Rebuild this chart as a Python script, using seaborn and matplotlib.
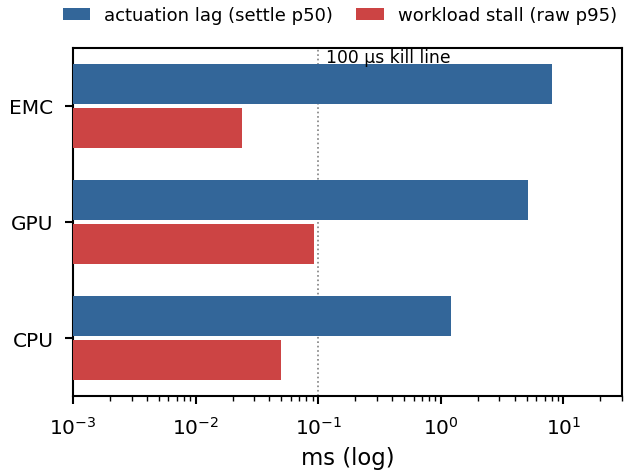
import matplotlib
matplotlib.use("Agg")
import matplotlib.pyplot as plt
import seaborn as sns
import pandas as pd

categories = ["EMC", "GPU", "CPU"]
series = ["actuation lag (settle p50)", "workload stall (raw p95)"]
actuation_lag = [8.1, 5.1, 1.21]
workload_stall = [0.024, 0.093, 0.050]
kill_line = 0.1
colors = ["#336699", "#cc4444"]

rows = []
for c, a, w in zip(categories, actuation_lag, workload_stall):
    rows.append({"component": c, "series": series[0], "ms": a})
    rows.append({"component": c, "series": series[1], "ms": w})
df = pd.DataFrame(rows)

sns.set_theme(style="ticks")
plt.rcParams['font.family'] = ['DejaVu Sans']
for k in ["text.color", "axes.labelcolor", "xtick.color", "ytick.color", "axes.edgecolor"]:
    plt.rcParams[k] = "black"

fig = plt.figure(figsize=(6.3, 4.77), dpi=100)
ax = fig.add_axes([0.1159, 0.1677, 0.8714, 0.7296])

sns.barplot(data=df, y="component", x="ms", hue="series", order=categories,
            hue_order=series, palette=colors, orient="h", width=0.752, gap=0.075,
            saturation=1, ax=ax, zorder=3, log_scale=(True, False), edgecolor="none")
ax.set_xscale("log")
ax.set_xlim(1e-3, 30)
ax.set_ylim(2.5, -0.5)
ax.axvline(kill_line, color="gray", linestyle=":", linewidth=1.2, zorder=1)
ax.text(kill_line * 1.16, -0.42, "100 µs kill line", fontsize=12.3, va="center", ha="left", zorder=4)

ax.set_xlabel("ms (log)", fontsize=16.4, labelpad=6)
ax.set_ylabel("")
ax.tick_params(axis="both", labelsize=14.5, width=1.5, length=6, pad=8)
ax.tick_params(axis="x", which="minor", width=1.0, length=3.5)
for s in ax.spines.values():
    s.set_linewidth(1.5)
    s.set_color("black")

handles, labels = ax.get_legend_handles_labels()
ax.legend(handles, labels, loc="lower center", bbox_to_anchor=(0.486, 1.032), ncol=2,
          frameon=False, fontsize=13, handlelength=1.5, handletextpad=0.8,
          columnspacing=1.3, borderaxespad=0.3)

fig.savefig("out.png", dpi=100)
